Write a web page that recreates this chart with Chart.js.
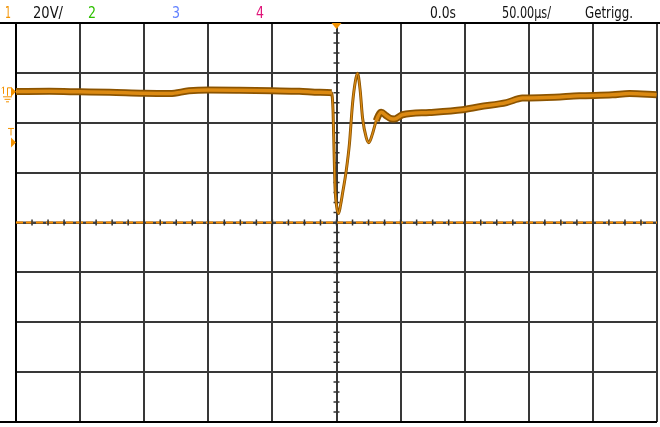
<!DOCTYPE html>
<html>
<head>
<meta charset="utf-8">
<script src="https://cdn.jsdelivr.net/npm/chart.js@4.4.1/dist/chart.umd.min.js"></script>
<style>
  html, body { margin: 0; padding: 0; background: #ffffff; }
  #scope_wrap { position: relative; width: 660px; height: 427px; }
</style>
</head>
<body>
<div id="scope_wrap"><canvas id="scope_screen" width="660" height="427"></canvas></div>
<script>
// time in microseconds, values in volts (channel 1)
var timeUs = [-250, -224, -200, -177, -150, -130, -115, -100, -76, -50, -29, -13, -3.9,
    -2.7, -1.9, -1.2, 0, 1.6, 3.1, 4.7, 7.6, 10.1, 12.5, 14.8, 16.4, 18.5, 20.3, 23.2, 25.2,
    28.1, 31, 34.9, 38.8, 42.7, 45.2, 51.5, 72.5, 98.3, 111.5, 132.6, 145, 163.8, 189.5,
    215.3, 228.6, 249.6];
var ch1Volts = [0.1, 0.2, 0, -0.2, -0.6, -0.7, 0.4, 0.7, 0.6, 0.4, 0.2, -0.2, -0.4,
    -7.6, -23.6, -37.6, -45.6, -48.8, -45.6, -40.8, -31.6, -20.8, -4.8, 4.4, 7.4, 0.4, -10.4, -18.4, -20.4,
    -16.8, -11.6, -8.2, -9.6, -10.8, -10.9, -9.2, -8.3, -7.2, -6, -4.3, -2.5, -2.3, -1.6,
    -1.2, -0.7, -1.2];

var headerLabels = ["1", "20V/", "2", "3", "4", "0.0s", "50.00\u00b5s/", "Getrigg."];
var voltsPerDiv = 20;
var usPerDiv = 50;
var groundDiv = 2.62;      // ground marker position above screen centre, in divisions
var triggerVolts = -20.3;

document.addEventListener("DOMContentLoaded", function() {
    var canvas = document.getElementById("scope_screen");

    var yMin = -(4 + groundDiv) * voltsPerDiv;
    var yMax = (4 - groundDiv) * voltsPerDiv;
    var yTicks = [];
    for (var i = 0; i <= 8; i++) {
        yTicks.push({ value: yMin + i * voltsPerDiv });
    }

    var points = [];
    for (var j = 0; j < timeUs.length; j++) {
        points.push({ x: timeUs[j], y: ch1Volts[j] });
    }

    function isFast(ctx) {
        return ctx.p0.parsed.x > -4 && ctx.p1.parsed.x < 32;
    }

    var scopeDecor = {
        id: 'scopeDecor',
        beforeDatasetsDraw: function(chart) {
            var c = chart.ctx;
            var area = chart.chartArea;
            var xs = chart.scales.x;
            var ys = chart.scales.y;
            var cx = xs.getPixelForValue(0);
            var cy = ys.getPixelForValue(-groundDiv * voltsPerDiv);
            c.save();
            // frame
            c.strokeStyle = '#000000';
            c.lineWidth = 2;
            c.beginPath();
            c.moveTo(0, area.top); c.lineTo(660, area.top);
            c.moveTo(0, area.bottom); c.lineTo(area.right, area.bottom);
            c.moveTo(area.left, area.top); c.lineTo(area.left, area.bottom);
            c.stroke();
            // centre vertical line ticks
            c.strokeStyle = '#333333';
            c.lineWidth = 1.5;
            c.beginPath();
            var stepY = (area.bottom - area.top) / 40;
            for (var k = 1; k < 40; k++) {
                var yy = area.top + k * stepY;
                c.moveTo(cx - 3, yy); c.lineTo(cx + 3, yy);
            }
            c.stroke();
            // centre horizontal line, orange dashed with ticks
            c.lineWidth = 2;
            c.strokeStyle = '#444444';
            c.beginPath();
            c.moveTo(area.left, cy); c.lineTo(area.right, cy);
            c.stroke();
            c.strokeStyle = '#ff9200';
            c.setLineDash([7, 3]);
            c.beginPath();
            c.moveTo(area.left, cy); c.lineTo(area.right, cy);
            c.stroke();
            c.setLineDash([]);
            c.strokeStyle = '#333333';
            c.lineWidth = 1.5;
            c.beginPath();
            var stepX = (area.right - area.left) / 40;
            for (var m = 1; m < 40; m++) {
                var xx = area.left + m * stepX;
                c.moveTo(xx, cy - 3); c.lineTo(xx, cy + 3);
            }
            c.stroke();
            c.restore();
        },
        afterDraw: function(chart) {
            var c = chart.ctx;
            var area = chart.chartArea;
            var xs = chart.scales.x;
            var ys = chart.scales.y;
            var orange = '#f39200';
            c.save();
            // header
            c.font = '16px "DejaVu Sans Condensed", "DejaVu Sans", sans-serif';
            c.textBaseline = 'alphabetic';
            var spots = [[5, orange, 6], [33, '#111111', 30], [88, '#2ec000', 8], [172, '#5f7fff', 8],
                [256, '#e0167a', 8], [430, '#111111', 26], [502, '#111111', 49], [585, '#111111', 48]];
            for (var i = 0; i < headerLabels.length; i++) {
                c.fillStyle = spots[i][1];
                c.fillText(headerLabels[i], spots[i][0], 18, spots[i][2]);
            }
            // trigger position marker
            var tx = xs.getPixelForValue(0);
            c.fillStyle = orange;
            c.beginPath();
            c.moveTo(tx - 5, area.top); c.lineTo(tx + 5, area.top); c.lineTo(tx, area.top + 6);
            c.closePath(); c.fill();
            // ground marker
            var gy = ys.getPixelForValue(0);
            c.strokeStyle = orange;
            c.lineWidth = 1;
            c.beginPath();
            c.moveTo(3.5, gy - 5); c.lineTo(3.5, gy + 2);
            c.moveTo(2, gy - 3.5); c.lineTo(3.5, gy - 5);
            c.stroke();
            c.beginPath();
            c.moveTo(11, gy - 5); c.lineTo(16, gy); c.lineTo(11, gy + 5);
            c.closePath(); c.fill();
            c.beginPath();
            c.moveTo(7.5, gy - 4); c.lineTo(7.5, gy + 4);
            c.moveTo(7.5, gy - 4); c.lineTo(11, gy - 4);
            c.moveTo(3, gy + 5); c.lineTo(12, gy + 5);
            c.moveTo(4.5, gy + 7.5); c.lineTo(10.5, gy + 7.5);
            c.moveTo(6, gy + 10); c.lineTo(9, gy + 10);
            c.stroke();
            // trigger level marker
            var ty = ys.getPixelForValue(triggerVolts);
            c.beginPath();
            c.moveTo(8, ty - 14); c.lineTo(14, ty - 14);
            c.moveTo(11, ty - 14); c.lineTo(11, ty - 7);
            c.stroke();
            c.beginPath();
            c.moveTo(11, ty - 5); c.lineTo(16, ty); c.lineTo(11, ty + 5);
            c.closePath(); c.fill();
            c.restore();
        }
    };

    var data = {
        datasets: [{
            label: 'CH1',
            data: points,
            borderColor: '#dc8a12',
            borderWidth: 3.5,
            pointRadius: 0,
            cubicInterpolationMode: 'monotone',
            segment: {
                borderWidth: function(ctx) { return isFast(ctx) ? 1.3 : 3.5; }
            }
        }, {
            label: 'CH1 edge',
            data: points,
            borderColor: '#8c5400',
            borderWidth: 7,
            pointRadius: 0,
            cubicInterpolationMode: 'monotone',
            segment: {
                borderWidth: function(ctx) { return isFast(ctx) ? 3 : 7; }
            }
        }]
    };

    var options = {
        responsive: false,
        animation: false,
        layout: {
            padding: { left: 16, top: 23, right: 3, bottom: 5 }
        },
        plugins: {
            legend: { display: false },
            tooltip: { enabled: false }
        },
        scales: {
            x: {
                type: 'linear',
                min: -5 * usPerDiv,
                max: 5 * usPerDiv,
                ticks: { display: false, stepSize: usPerDiv },
                grid: { color: '#383838', lineWidth: 2, drawTicks: false },
                border: { display: false }
            },
            y: {
                type: 'linear',
                min: yMin,
                max: yMax,
                afterBuildTicks: function(axis) { axis.ticks = yTicks; },
                ticks: { display: false },
                grid: { color: '#383838', lineWidth: 2, drawTicks: false },
                border: { display: false }
            }
        }
    };

    var scopeChart = new Chart(canvas, {
        type: 'line',
        data: data,
        options: options,
        plugins: [scopeDecor]
    });
});
</script>
</body>
</html>
